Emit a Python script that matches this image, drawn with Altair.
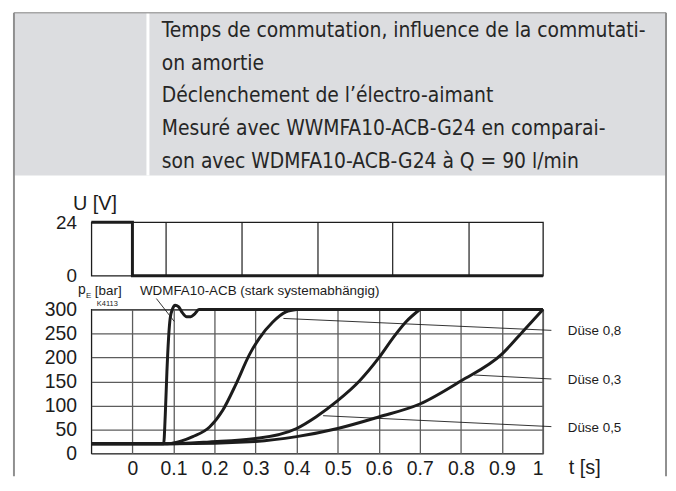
import altair as alt
import pandas as pd

# ---------------- data ----------------
header_lines = [
    "Temps de commutation, influence de la commutati-",
    "on amortie",
    "Déclenchement de l’électro-aimant",
    "Mesuré avec  WWMFA10-ACB-G24 en comparai-",
    "son avec  WDMFA10-ACB-G24 à Q = 90 l/min",
]

t_ticks = [0, 0.1, 0.2, 0.3, 0.4, 0.5, 0.6, 0.7, 0.8, 0.9, 1.0]
p_ticks = [0, 50, 100, 150, 200, 250, 300]
u_ticks = [0, 24]

# solenoid voltage
u_t = [-0.1, 0.0, 0.0, 1.0]
u_v = [24, 24, 0, 0]
u_grid_t = [0.082, 0.267, 0.452, 0.634, 0.820]
u_grid_lo = [0, 0, 0, 0, 0]
u_grid_hi = [24, 24, 24, 24, 24]

# pressure curves
wdmfa_t = [-0.1, 0.076, 0.080, 0.084, 0.088, 0.092, 0.098, 0.104, 0.112, 0.122, 0.132, 0.142, 0.152, 0.162, 1.0]
wdmfa_p = [20, 20, 80, 170, 240, 282, 302, 309, 306, 293, 285, 285, 291, 300, 300]

d08_t = [-0.1, 0.085, 0.12, 0.147, 0.188, 0.22, 0.252, 0.285, 0.309, 0.342, 0.374, 0.40]
d08_p = [20, 20, 26, 35, 55, 90, 144, 206, 240, 274, 295, 300]

d05_t = [-0.1, 0.076, 0.188, 0.30, 0.40, 0.447, 0.50, 0.553, 0.60, 0.634, 0.666, 0.70]
d05_p = [20, 20, 24, 31, 52, 76, 110, 151, 199, 240, 274, 300]

d03_t = [-0.1, 0.10, 0.30, 0.40, 0.50, 0.60, 0.70, 0.80, 0.90, 0.955, 1.0]
d03_p = [20, 20, 25, 35, 52, 76, 103, 151, 207, 258, 300]

series_names = ["WDMFA10-ACB", "Düse 0,8", "Düse 0,5", "Düse 0,3"]

# ---------------- tables ----------------
rows = []
for name, ts, ps in zip(series_names, [wdmfa_t, d08_t, d05_t, d03_t], [wdmfa_p, d08_p, d05_p, d03_p]):
    for i, (t, p) in enumerate(zip(ts, ps)):
        rows.append({"series": name, "t": t, "p": p, "i": i})
curve_df = pd.DataFrame(rows)
u_df = pd.DataFrame({"t": u_t, "v": u_v, "i": list(range(len(u_t)))})
ugrid_df = pd.DataFrame({"t": u_grid_t, "lo": u_grid_lo, "hi": u_grid_hi})
one = pd.DataFrame({"a": [0]})

# ---------------- style ----------------
INK = "#1c1c1c"
GRID = "#5c5c5c"
FRAME = "#8f8f8f"
FONT = "Liberation Sans"
HFONT = "Liberation Sans Narrow, DejaVu Sans Condensed, Liberation Sans"
W, HU, HP = 455, 54, 145

xscale = alt.Scale(domain=[-0.1, 1.0], nice=False, zero=False)
uscale = alt.Scale(domain=[0, 24], nice=False, zero=False)

# ---------------- voltage panel (also carries the frame/header) ----------------
u_line = alt.Chart(u_df).mark_line(color=INK, strokeWidth=3).encode(
    x=alt.X("t:Q", scale=xscale, axis=None),
    y=alt.Y("v:Q", scale=uscale,
            axis=alt.Axis(values=u_ticks, title=None, grid=False, ticks=False, domain=False,
                          labelFontSize=19, labelPadding=15, labelColor=INK, labelFont=FONT)),
    order="i:Q",
)
u_grid = alt.Chart(ugrid_df).mark_rule(color=INK, strokeWidth=1.2).encode(
    x=alt.X("t:Q", scale=xscale, axis=None),
    y=alt.Y("lo:Q", scale=uscale),
    y2="hi:Q",
)


def label(txt, x, y, size=13, align="left", baseline="middle", font=FONT, color=INK):
    return alt.Chart(one).mark_text(text=txt, align=align, baseline=baseline, fontSize=size,
                                    font=font, color=color).encode(x=alt.value(x), y=alt.value(y))


def vrule(x, y1, y2, color, w):
    return alt.Chart(one).mark_rule(color=color, strokeWidth=w).encode(
        x=alt.value(x), y=alt.value(y1), y2=alt.value(y2))


def hrule(x1, x2, y, color, w):
    return alt.Chart(one).mark_rule(color=color, strokeWidth=w).encode(
        x=alt.value(x1), x2=alt.value(x2), y=alt.value(y))


header_bg = alt.Chart(one).mark_rect(color="#dcdde0").encode(
    x=alt.value(-78), x2=alt.value(579), y=alt.value(-211), y2=alt.value(-47))

u_layers = [
    header_bg,
    vrule(57, -211, -47, "white", 3),
    hrule(-78, 579, -211, "#a6a6a6", 1.5),
    vrule(-78, -211, 256, FRAME, 2),
    vrule(579, -211, 256, FRAME, 2),
]
for k, line in enumerate(header_lines):
    u_layers.append(label(line, 71, -187 + 33.2 * k, size=21, baseline="alphabetic",
                          font=HFONT, color="#262626"))
u_layers += [u_grid, u_line, label("U [V]", -18.5, -18, size=20)]

u_chart = alt.layer(*u_layers).properties(width=W, height=HU)

# ---------------- pressure panel ----------------
curves = alt.Chart(curve_df).mark_line(color=INK, strokeWidth=3, interpolate="monotone",
                                       strokeJoin="round").encode(
    x=alt.X("t:Q", scale=xscale,
            axis=alt.Axis(values=t_ticks, format="~g", title=None, grid=True, gridColor=GRID,
                          gridWidth=1.3, ticks=False, domain=False, labelFontSize=19.5,
                          labelPadding=6, labelColor=INK, labelFont=FONT)),
    y=alt.Y("p:Q", scale=alt.Scale(domain=[0, 300], nice=False),
            axis=alt.Axis(values=p_ticks, title=None, grid=True, gridColor=GRID, gridWidth=1.3,
                          ticks=False, domain=False, labelFontSize=19.5, labelPadding=15,
                          labelColor=INK, labelFont=FONT)),
    detail="series:N",
    order="i:Q",
)


def leader(x1, y1, x2, y2):
    return alt.Chart(one).mark_rule(color=INK, strokeWidth=0.9).encode(
        x=alt.value(x1), y=alt.value(y1), x2=alt.value(x2), y2=alt.value(y2))


p_layers = [
    curves,
    leader(65.5, -11, 83.5, 12),
    leader(193.5, 9, 463.5, 21),
    leader(385.5, 66, 463.5, 70),
    leader(233.5, 107, 463.5, 118),
    label("WDMFA10-ACB (stark systemabhängig)", 49, -19, size=13.5),
    label("Düse 0,8", 480, 22, size=13.5),
    label("Düse 0,3", 480, 71, size=13.5),
    label("Düse 0,5", 480, 119, size=13.5),
    label("t [s]", 481, 160, size=20),
    label("p", -13.5, -16, size=14, baseline="alphabetic"),
    label("E", -5.5, -12, size=8, baseline="alphabetic"),
    label("[bar]", 3.5, -15, size=13.5, baseline="alphabetic"),
    label("K4113", 5.5, -4, size=7.5, baseline="alphabetic"),
]
p_chart = alt.layer(*p_layers).properties(width=W, height=HP)

chart = alt.vconcat(u_chart, p_chart, spacing=34, bounds="flush").properties(
    padding={"left": 4, "top": 0, "right": 0, "bottom": 0}
).configure_view(stroke=INK, strokeWidth=1.3)

chart.save("out.html", embed_options={"renderer": "svg", "actions": False})
